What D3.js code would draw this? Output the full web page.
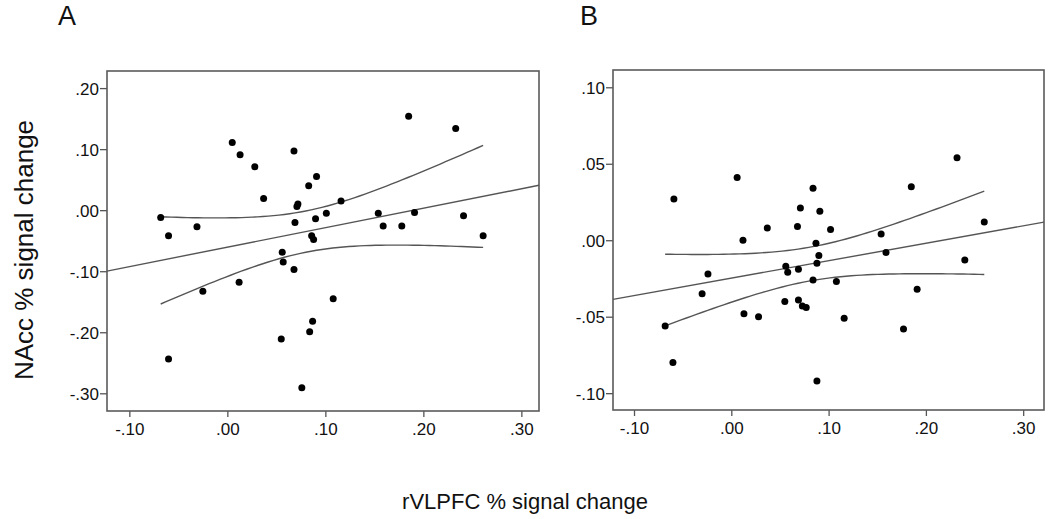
<!DOCTYPE html>
<html>
<head>
<meta charset="utf-8">
<script src="https://cdn.jsdelivr.net/npm/d3@7"></script>
<style>
  body { margin: 0; background: #fff; }
  svg { display: block; font-family: "Liberation Sans", Arial, sans-serif; }
  .axis text { font-size: 17px; fill: #111; }
  .axis line { stroke: #555; stroke-width: 1.3; }
</style>
</head>
<body>
<svg id="chart" width="1050" height="519"></svg>
<script>
// rVLPFC % signal change (x) and NAcc % signal change (y), one entry per subject
const rvlpfcA = [-0.068, -0.060, -0.060, -0.031, -0.025, 0.005, 0.013, 0.012, 0.028, 0.037,
  0.068, 0.069, 0.071, 0.072, 0.056, 0.057, 0.068, 0.055, 0.076, 0.083,
  0.091, 0.090, 0.086, 0.088, 0.084, 0.087, 0.101, 0.108, 0.116, 0.154,
  0.159, 0.178, 0.185, 0.191, 0.233, 0.241, 0.261];
const naccA = [-0.012, -0.042, -0.244, -0.027, -0.133, 0.111, 0.091, -0.118, 0.071, 0.019,
  0.097, -0.020, 0.006, 0.010, -0.069, -0.085, -0.097, -0.211, -0.291, 0.040,
  0.055, -0.014, -0.042, -0.048, -0.199, -0.182, -0.005, -0.145, 0.015, -0.005,
  -0.026, -0.026, 0.154, -0.004, 0.134, -0.009, -0.042];

const rvlpfcB = [-0.068, -0.059, -0.060, -0.030, -0.024, 0.006, 0.012, 0.013, 0.028, 0.037,
  0.056, 0.058, 0.055, 0.068, 0.071, 0.069, 0.069, 0.073, 0.077, 0.084,
  0.084, 0.087, 0.088, 0.090, 0.088, 0.091, 0.102, 0.108, 0.116, 0.154,
  0.159, 0.177, 0.185, 0.191, 0.232, 0.240, 0.260];
const naccB = [-0.056, 0.027, -0.080, -0.035, -0.022, 0.041, 0.000, -0.048, -0.050, 0.008,
  -0.017, -0.021, -0.040, 0.009, 0.021, -0.019, -0.039, -0.043, -0.044, 0.034,
  -0.026, -0.002, -0.092, -0.010, -0.015, 0.019, 0.007, -0.027, -0.051, 0.004,
  -0.008, -0.058, 0.035, -0.032, 0.054, -0.013, 0.012];

const xTicks = [-0.1, 0, 0.1, 0.2, 0.3];
const yTicksA = [0.2, 0.1, 0, -0.1, -0.2, -0.3];
const yTicksB = [0.1, 0.05, 0, -0.05, -0.1];

const panelLabels = ["A", "B"];
const yTitle = "NAcc % signal change";
const xTitle = "rVLPFC % signal change";

const svg = d3.select("#chart");
const fmt = v => d3.format(".2f")(v).replace("0.", ".").replace("−", "-");

// ordinary least squares fit with 95% confidence band for the mean
function fit(xs, ys) {
  const n = xs.length, mx = d3.mean(xs), my = d3.mean(ys);
  const sxx = d3.sum(xs, x => (x - mx) ** 2);
  const sxy = d3.sum(xs, (x, i) => (x - mx) * (ys[i] - my));
  const b = sxy / sxx, a = my - b * mx;
  const sse = d3.sum(xs, (x, i) => (ys[i] - a - b * x) ** 2);
  const s = Math.sqrt(sse / (n - 2));
  const t = 2.030; // t(0.975, df = 35)
  return {
    predict: x => a + b * x,
    half: x => t * s * Math.sqrt(1 / n + (x - mx) ** 2 / sxx)
  };
}

function panel(cfg) {
  const { left, top, right, bottom, xDomain, yDomain, xs, ys, yTicks, label } = cfg;
  const x = d3.scaleLinear().domain(xDomain).range([left, right]);
  const y = d3.scaleLinear().domain(yDomain).range([bottom, top]);
  const g = svg.append("g");

  g.append("g")
    .attr("class", "axis")
    .attr("transform", `translate(${left},0)`)
    .call(d3.axisLeft(y).tickValues(yTicks).tickSize(7).tickPadding(1).tickFormat(fmt))
    .call(a => a.select(".domain").remove())
    .selectAll("text").attr("dy", "0.36em");

  g.append("g")
    .attr("class", "axis")
    .attr("transform", `translate(0,${bottom})`)
    .call(d3.axisBottom(x).tickValues(xTicks).tickSize(6).tickPadding(6).tickFormat(fmt))
    .call(a => a.select(".domain").remove());

  g.append("rect")
    .attr("x", left).attr("y", top)
    .attr("width", right - left).attr("height", bottom - top)
    .attr("fill", "none").attr("stroke", "#5a5a5a").attr("stroke-width", 1.6);

  const f = fit(xs, ys);
  const line = d3.line().x(d => x(d[0])).y(d => y(d[1]));
  const [x0, x1] = d3.extent(xs);
  const grid = d3.range(0, 61).map(i => x0 + (x1 - x0) * i / 60);

  g.append("path")
    .attr("d", line(xDomain.map(v => [v, f.predict(v)])))
    .attr("fill", "none").attr("stroke", "#555").attr("stroke-width", 1.4);
  [1, -1].forEach(sign => {
    g.append("path")
      .attr("d", line(grid.map(v => [v, f.predict(v) + sign * f.half(v)])))
      .attr("fill", "none").attr("stroke", "#555").attr("stroke-width", 1.4);
  });

  g.selectAll("circle")
    .data(xs.map((v, i) => [v, ys[i]]))
    .join("circle")
    .attr("cx", d => x(d[0]))
    .attr("cy", d => y(d[1]))
    .attr("r", 3.5)
    .attr("fill", "#000");

  svg.append("text")
    .attr("x", cfg.labelX).attr("y", 25)
    .attr("font-size", 27).attr("fill", "#111")
    .text(label);
}

panel({
  left: 107, top: 71, right: 539, bottom: 411,
  xDomain: [-0.1228, 0.318], yDomain: [-0.329, 0.228],
  xs: rvlpfcA, ys: naccA, yTicks: yTicksA, label: panelLabels[0], labelX: 58
});

panel({
  left: 613, top: 70, right: 1044, bottom: 410,
  xDomain: [-0.1216, 0.3214], yDomain: [-0.111, 0.1113],
  xs: rvlpfcB, ys: naccB, yTicks: yTicksB, label: panelLabels[1], labelX: 580
});

svg.append("text")
  .attr("transform", "translate(33,250) rotate(-90)")
  .attr("text-anchor", "middle")
  .attr("font-size", 26).attr("fill", "#111")
  .text(yTitle);

svg.append("text")
  .attr("x", 525).attr("y", 509)
  .attr("text-anchor", "middle")
  .attr("font-size", 22).attr("fill", "#111")
  .text(xTitle);
</script>
</body>
</html>
